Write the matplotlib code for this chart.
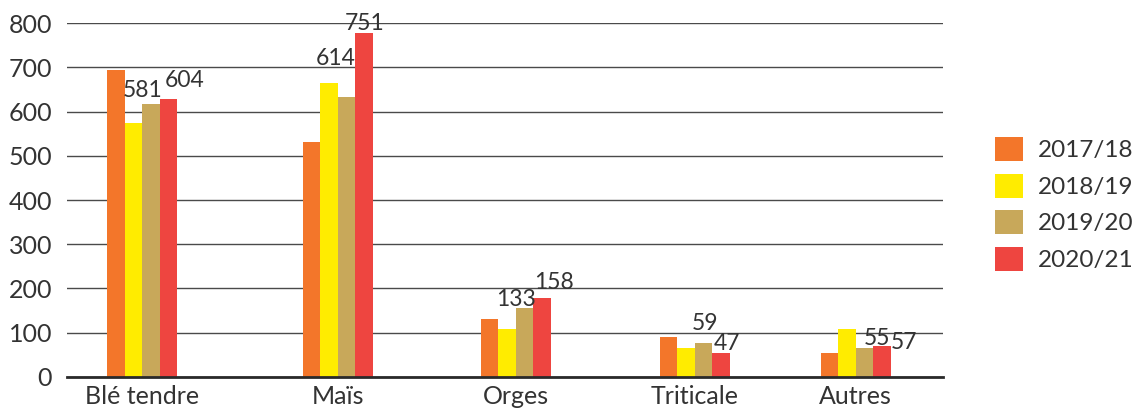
import matplotlib
matplotlib.use("Agg")
import matplotlib.pyplot as plt
import numpy as np

categories = ["Blé tendre", "Maïs", "Orges", "Triticale", "Autres"]
series = ["2017/18", "2018/19", "2019/20", "2020/21"]
v_2017_18 = [695, 532, 131, 90, 54]
v_2018_19 = [574, 665, 108, 66, 108]
v_2019_20 = [617, 633, 156, 77, 65]
v_2020_21 = [629, 777, 179, 54, 69]
label_values = [["581", "604"], ["614", "751"], ["133", "158"], ["59", "47"], ["55", "57"]]
yticks = [0, 100, 200, 300, 400, 500, 600, 700, 800]

colors = ["#F3762A", "#FFEC00", "#C8A85A", "#EE4540"]
values = [v_2017_18, v_2018_19, v_2019_20, v_2020_21]

plt.rcParams["font.family"] = ["Lato", "DejaVu Sans"]
TXT = "#333333"

fig = plt.figure(figsize=(11.37, 4.08), dpi=100)
ax = fig.add_axes([0.0587, 0.0767, 0.829 - 0.0587, 0.9429 - 0.0767])

# group centres (layout)
centers = np.array([0.0, 1.098, 2.095, 3.098, 4.0])
bw = 0.098
offsets = (np.arange(4) - 1.5) * bw

for i, (vals, c, s) in enumerate(zip(values, colors, series)):
    ax.bar(centers + offsets[i], vals, width=bw, color=c, label=s, zorder=3, linewidth=0)

# data labels (placed as in the reference)
label_pos = [
    [(0.005, 649), (0.238, 670)],
    [(1.085, 720), (1.245, 800)],
    [(2.095, 175), (2.31, 214)],
    [(3.155, 120), (3.28, 75)],
    [(4.12, 87), (4.27, 78)],
]
for labs, poss in zip(label_values, label_pos):
    for t, (x, y) in zip(labs, poss):
        ax.text(x, y, t, ha="center", va="center", fontsize=16.5, color=TXT, zorder=4)

ax.set_xlim(-0.422, 4.487)
ax.set_ylim(0, 800)
ax.set_yticks(yticks)
ax.set_yticklabels([str(t) for t in yticks])
ax.set_xticks(centers)
ax.set_xticklabels(categories)
ax.tick_params(axis="both", length=0, labelsize=18, colors=TXT)
ax.tick_params(axis="y", pad=10.5)
ax.tick_params(axis="x", pad=6)
ax.yaxis.grid(True, color="#4a4a4a", linewidth=1.0, zorder=0)
ax.set_axisbelow(True)
for sp in ["top", "right", "left"]:
    ax.spines[sp].set_visible(False)
ax.spines["bottom"].set_color("#2a2a2a")
ax.spines["bottom"].set_linewidth(2.0)
ax.spines["bottom"].set_zorder(5)

handles, labels = ax.get_legend_handles_labels()
fig.legend(handles, labels, loc="center left", bbox_to_anchor=(0.875, 0.50),
           frameon=False, fontsize=17.5, handlelength=1.15, handleheight=1.15,
           handletextpad=0.6, labelspacing=0.5, labelcolor=TXT,
           borderpad=0, borderaxespad=0)

fig.savefig("out.png", dpi=100)
